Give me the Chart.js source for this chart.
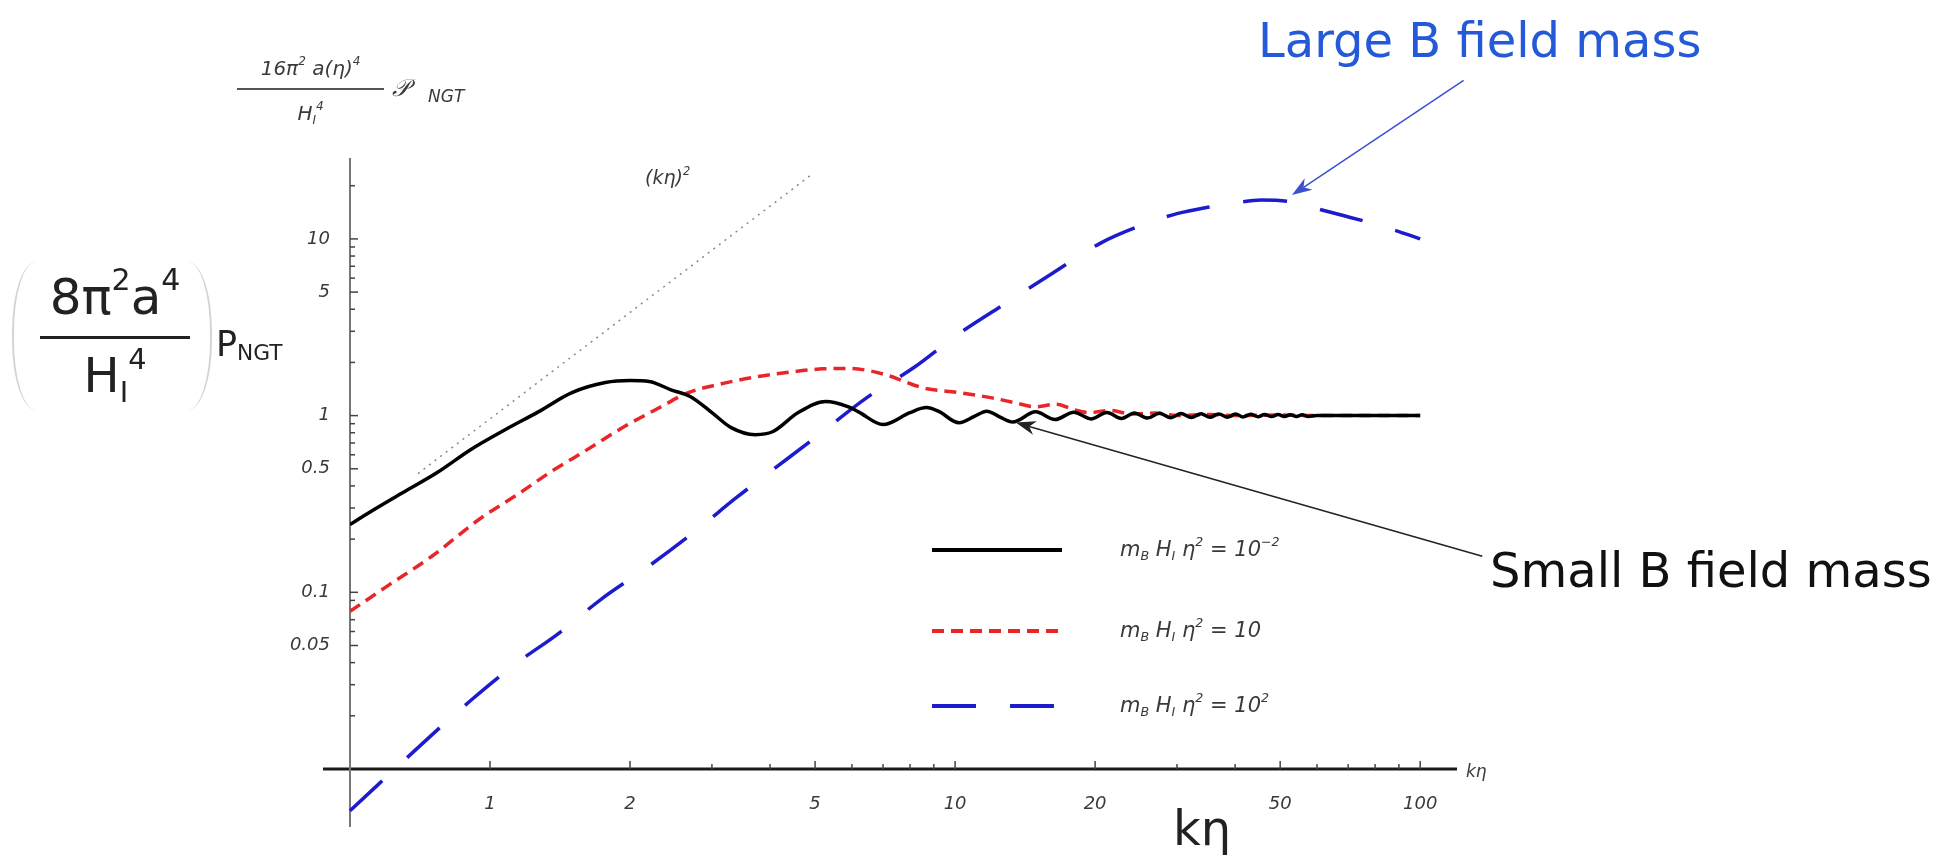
<!DOCTYPE html>
<html>
<head>
<meta charset="utf-8">
<script src="https://cdn.jsdelivr.net/npm/chart.js@4"></script>
<style>
  body { margin: 0; background: #fff; }
  #wrap { position: relative; width: 1955px; height: 857px; overflow: hidden; }
  #chart { position: absolute; left: 0; top: 0; }
  .t { position: absolute; white-space: nowrap; line-height: 1; font-family: 'DejaVu Sans', sans-serif; }
  .t sup, .t sub { vertical-align: baseline; position: relative; font-size: 0.6em; }
  .t sup { top: -0.8em; }
  .t sub { top: 0.35em; }
  .mma { font-style: italic; color: #3a3a3a; }
  .note { font-size: 48px; }
</style>
</head>
<body>
<div id="wrap">
  <canvas id="chart" width="1955" height="857"></canvas>

  <!-- small Mathematica axis label at the top -->
  <div class="t mma" style="left:237px;top:58px;width:147px;text-align:center;font-size:20px">16π<sup>2</sup> a(η)<sup>4</sup></div>
  <div style="position:absolute;left:237px;top:88px;width:147px;height:2px;background:#555"></div>
  <div class="t mma" style="left:237px;top:103px;width:147px;text-align:center;font-size:20px">H<sub>I</sub><sup>4</sup></div>
  <div class="t mma" style="left:392px;top:76px;font-size:24px">𝒫</div>
  <div class="t mma" style="left:428px;top:88px;font-size:17px">NGT</div>

  <!-- large y-axis title -->
  <div style="position:absolute;left:12px;top:262px;width:200px;height:148px;border-left:2px solid #d4d4d4;border-right:2px solid #d4d4d4;border-radius:24px / 70px;box-sizing:border-box"></div>
  <div class="t" style="left:40px;top:272px;width:150px;text-align:center;font-size:50px;color:#222">8π<sup>2</sup>a<sup>4</sup></div>
  <div style="position:absolute;left:40px;top:336px;width:150px;height:3px;background:#222"></div>
  <div class="t" style="left:40px;top:351px;width:150px;text-align:center;font-size:48px;color:#222">H<sub>I</sub><sup>4</sup></div>
  <div class="t" style="left:216px;top:327px;font-size:35px;color:#222">P<sub style="font-size:0.62em;top:0.2em">NGT</sub></div>

  <!-- annotations -->
  <div class="t mma" style="left:645px;top:168px;font-size:19px">(kη)<sup>2</sup></div>
  <div class="t mma" style="left:1466px;top:763px;font-size:17px">kη</div>
  <div class="t" style="left:1173px;top:804px;font-size:48px;color:#222">kη</div>
  <div class="t note" style="left:1258px;top:16px;color:#2459d8">Large B field mass</div>
  <div class="t note" style="left:1490px;top:546px;color:#111">Small B field mass</div>

  <!-- legend text -->
  <div class="t mma" style="left:1120px;top:539px;font-size:21px"><i>m</i><sub>B</sub> <i>H</i><sub>I</sub> <i>η</i><sup>2</sup> = 10<sup>−2</sup></div>
  <div class="t mma" style="left:1120px;top:620px;font-size:21px"><i>m</i><sub>B</sub> <i>H</i><sub>I</sub> <i>η</i><sup>2</sup> = 10</div>
  <div class="t mma" style="left:1120px;top:695px;font-size:21px"><i>m</i><sub>B</sub> <i>H</i><sub>I</sub> <i>η</i><sup>2</sup> = 10<sup>2</sup></div>
</div>

<script>
// axes
var xOrigin = 0.5, yOrigin = 0.01;
var xMax = 120, yMax = 28.7;
var xTicks = [1, 2, 3, 4, 5, 6, 7, 8, 9, 10, 20, 30, 40, 50, 60, 70, 80, 90, 100];
var xLabeled = [1, 2, 5, 10, 20, 50, 100];
var yTicks = [0.02, 0.03, 0.04, 0.05, 0.06, 0.07, 0.08, 0.09,
  0.1, 0.2, 0.3, 0.4, 0.5, 0.6, 0.7, 0.8, 0.9,
  1, 2, 3, 4, 5, 6, 7, 8, 9, 10, 20];
var yLabeled = [0.05, 0.1, 0.5, 1, 5, 10];

// (k eta)^2 guide
var guideX = [0.7, 4.9];
var guideY = [0.47, 23];

// m_B H_I eta^2 = 10^-2
var smallX = [0.5, 0.55, 0.65, 0.77, 0.91, 1.08, 1.27, 1.5, 1.77, 2.0, 2.2, 2.45, 2.7, 3.0, 3.3, 3.72, 4.05, 4.6,
  5.27, 5.9, 6.2, 7.0, 8.0, 8.67, 9.2, 10.2, 11.0, 11.7, 12.5, 13.3,
  14.9, 16.4, 18.0, 19.6, 21.2, 22.8, 24.3, 25.9, 27.5, 29.1, 30.6, 32.2, 33.8, 35.3, 36.9, 38.5,
  40.1, 41.6, 43.2, 44.8, 46.3, 47.9, 49.5, 51.1, 52.6, 54.2, 55.8, 57.4, 60, 70, 80, 100];
var smallY = [0.242, 0.283, 0.367, 0.476, 0.643, 0.834, 1.05, 1.35, 1.54, 1.58, 1.56, 1.40, 1.28, 1.04, 0.855, 0.78, 0.81, 1.04,
  1.2, 1.12, 1.05, 0.89, 1.04, 1.11, 1.06, 0.91, 0.99, 1.06, 0.98, 0.92,
  1.05, 0.95, 1.045, 0.958, 1.04, 0.963, 1.035, 0.968, 1.032, 0.972, 1.028, 0.975, 1.025, 0.978, 1.022, 0.98,
  1.02, 0.983, 1.017, 0.985, 1.015, 0.987, 1.013, 0.988, 1.012, 0.99, 1.01, 0.99, 1.0, 1.0, 1.0, 1.0];

// m_B H_I eta^2 = 10
var midX = [0.5, 0.6, 0.75, 0.95, 1.15, 1.35, 1.6, 1.95, 2.3, 2.67, 3.1, 3.7, 4.4, 5.2, 5.9, 6.5, 7.0, 7.5, 8.2, 8.7,
  10.2, 12.0, 13.5, 14.9, 16.5, 18.0, 19.5, 21.5, 24, 27, 30, 35, 40, 50, 60, 80, 100];
var midY = [0.078, 0.108, 0.16, 0.26, 0.36, 0.48, 0.63, 0.87, 1.10, 1.35, 1.50, 1.65, 1.76, 1.84, 1.85, 1.8, 1.72, 1.62, 1.48, 1.42,
  1.35, 1.26, 1.18, 1.12, 1.16, 1.08, 1.04, 1.07, 1.02, 1.035, 1.0, 1.015, 1.0, 1.008, 1.0, 1.0, 1.0];

// m_B H_I eta^2 = 10^2
var largeX = [0.5, 0.75, 0.91, 1.13, 1.41, 1.73, 2.19, 2.74, 3.39, 4.0, 5.0, 6.45, 8.2, 10.1, 12.9, 16.2, 20.6, 26.4,
  30, 34.9, 40, 45.5, 52, 59.6, 68, 78.4, 90, 100];
var largeY = [0.0058, 0.0156, 0.0245, 0.039, 0.059, 0.091, 0.14, 0.218, 0.344, 0.48, 0.75, 1.26, 1.89, 2.86, 4.35, 6.4, 9.5, 12.5,
  13.9, 15.1, 16.0, 16.6, 16.3, 14.9, 13.6, 12.3, 11.0, 10.0];

function pts(xs, ys) {
  return xs.map(function (x, i) { return { x: x, y: ys[i] }; });
}

// arrows, in data units (tail, tip)
var arrows = [
  { from: [124, 79], to: [53, 17.7], color: '#3d4fd0' },
  { from: [136, 0.16], to: [13.5, 0.913], color: '#222' }
];

var mmaAxes = {
  id: 'mmaAxes',
  beforeDatasetsDraw: function (chart) {
    var ctx = chart.ctx, xs = chart.scales.x, ys = chart.scales.y, area = chart.chartArea;
    var x0 = xs.getPixelForValue(xOrigin), y0 = ys.getPixelForValue(yOrigin);
    ctx.save();
    ctx.strokeStyle = '#1a1a1a';
    ctx.lineWidth = 3;
    ctx.beginPath(); ctx.moveTo(x0 - 27, y0); ctx.lineTo(area.right, y0); ctx.stroke();
    ctx.strokeStyle = '#777';
    ctx.lineWidth = 2;
    ctx.beginPath(); ctx.moveTo(x0, area.top); ctx.lineTo(x0, y0 + 58); ctx.stroke();

    ctx.strokeStyle = '#444';
    ctx.lineWidth = 1.5;
    xs.ticks.forEach(function (t) {
      var px = xs.getPixelForValue(t.value);
      var len = xLabeled.indexOf(t.value) >= 0 ? 8 : 5;
      ctx.beginPath(); ctx.moveTo(px, y0); ctx.lineTo(px, y0 - len); ctx.stroke();
    });
    ys.ticks.forEach(function (t) {
      var py = ys.getPixelForValue(t.value);
      var len = yLabeled.indexOf(t.value) >= 0 ? 8 : 5;
      ctx.beginPath(); ctx.moveTo(x0, py); ctx.lineTo(x0 + len, py); ctx.stroke();
    });
    ctx.restore();
  },
  afterDatasetsDraw: function (chart) {
    var ctx = chart.ctx, xs = chart.scales.x, ys = chart.scales.y;
    ctx.save();

    // legend samples
    var rows = [550, 631, 706];
    [1, 2, 3].forEach(function (di, i) {
      var ds = chart.data.datasets[di];
      ctx.strokeStyle = ds.borderColor;
      ctx.lineWidth = ds.borderWidth + 0.5;
      ctx.setLineDash(ds.borderDash || []);
      ctx.beginPath(); ctx.moveTo(932, rows[i]); ctx.lineTo(1062, rows[i]); ctx.stroke();
    });
    ctx.setLineDash([]);

    // arrows
    arrows.forEach(function (a) {
      var x1 = xs.getPixelForValue(a.from[0]), y1 = ys.getPixelForValue(a.from[1]);
      var x2 = xs.getPixelForValue(a.to[0]), y2 = ys.getPixelForValue(a.to[1]);
      var ang = Math.atan2(y2 - y1, x2 - x1);
      ctx.strokeStyle = a.color;
      ctx.fillStyle = a.color;
      ctx.lineWidth = 1.5;
      ctx.beginPath(); ctx.moveTo(x1, y1); ctx.lineTo(x2 - 14 * Math.cos(ang), y2 - 14 * Math.sin(ang)); ctx.stroke();
      ctx.beginPath();
      ctx.moveTo(x2, y2);
      ctx.lineTo(x2 - 20 * Math.cos(ang) + 7 * Math.sin(ang), y2 - 20 * Math.sin(ang) - 7 * Math.cos(ang));
      ctx.lineTo(x2 - 14 * Math.cos(ang), y2 - 14 * Math.sin(ang));
      ctx.lineTo(x2 - 20 * Math.cos(ang) - 7 * Math.sin(ang), y2 - 20 * Math.sin(ang) + 7 * Math.cos(ang));
      ctx.closePath();
      ctx.fill();
    });
    ctx.restore();
  }
};

var tickFont = { family: 'DejaVu Sans', size: 18, style: 'italic' };

var config = {
  type: 'line',
  data: {
    datasets: [{
      label: '(kη)^2',
      data: pts(guideX, guideY),
      borderColor: '#8a8a8a',
      borderWidth: 1.5,
      borderDash: [2, 5]
    }, {
      label: 'm_B H_I η^2 = 10^-2',
      data: pts(smallX, smallY),
      borderColor: '#000000',
      borderWidth: 3.5,
      cubicInterpolationMode: 'monotone'
    }, {
      label: 'm_B H_I η^2 = 10',
      data: pts(midX, midY),
      borderColor: '#e8262a',
      borderWidth: 3.5,
      borderDash: [12, 7],
      cubicInterpolationMode: 'monotone'
    }, {
      label: 'm_B H_I η^2 = 10^2',
      data: pts(largeX, largeY),
      borderColor: '#1c1ccc',
      borderWidth: 3.5,
      borderDash: [44, 34],
      cubicInterpolationMode: 'monotone',
      clip: { left: 5, top: 5, right: 5, bottom: 80 }
    }]
  },
  options: {
    responsive: false,
    devicePixelRatio: 1,
    animation: false,
    elements: { point: { radius: 0 } },
    layout: { padding: { left: 0, top: 158, right: 498, bottom: 0 } },
    plugins: {
      legend: { display: false },
      tooltip: { enabled: false }
    },
    scales: {
      x: {
        type: 'logarithmic',
        min: xOrigin,
        max: xMax,
        grid: { display: false, drawTicks: false },
        border: { display: false },
        afterBuildTicks: function (scale) {
          scale.ticks = xTicks.map(function (v) { return { value: v }; });
        },
        afterFit: function (scale) { scale.height = 88; },
        ticks: {
          autoSkip: false,
          maxRotation: 0,
          minRotation: 0,
          padding: 25,
          color: '#3a3a3a',
          font: tickFont,
          callback: function (v) { return xLabeled.indexOf(v) >= 0 ? String(v) : ''; }
        }
      },
      y: {
        type: 'logarithmic',
        min: yOrigin,
        max: yMax,
        grid: { display: false, drawTicks: false },
        border: { display: false },
        afterBuildTicks: function (scale) {
          scale.ticks = yTicks.map(function (v) { return { value: v }; });
        },
        afterFit: function (scale) { scale.width = 350; },
        ticks: {
          autoSkip: false,
          padding: 20,
          color: '#3a3a3a',
          font: tickFont,
          callback: function (v) { return yLabeled.indexOf(v) >= 0 ? String(v) : ''; }
        }
      }
    }
  },
  plugins: [mmaAxes]
};

window.onload = function () {
  var ctx = document.getElementById('chart').getContext('2d');
  window.myChart = new Chart(ctx, config);
};
</script>
</body>
</html>
